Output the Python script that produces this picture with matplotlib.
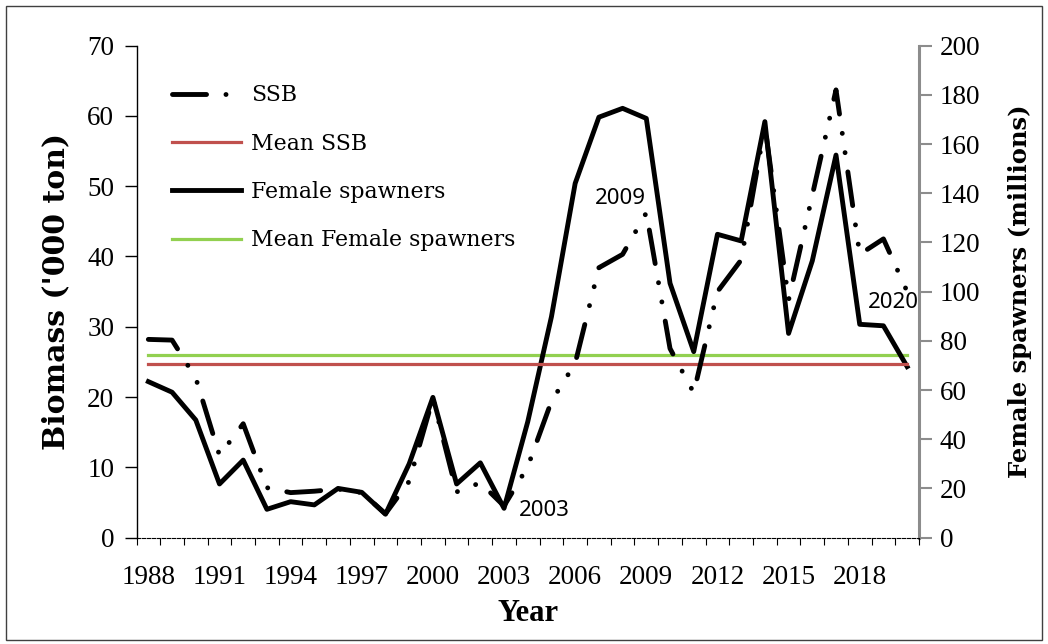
import numpy as np
import matplotlib
matplotlib.use("Agg")
import matplotlib.pyplot as plt
from matplotlib.ticker import FixedLocator, MultipleLocator
from matplotlib.patches import Rectangle

# ---- data ----
years = [1988, 1989, 1990, 1991, 1992, 1993, 1994, 1995, 1996, 1997, 1998,
         1999, 2000, 2001, 2002, 2003, 2004, 2005, 2006, 2007, 2008, 2009,
         2010, 2011, 2012, 2013, 2014, 2015, 2016, 2017, 2018, 2019, 2020]
ssb = [28.2, 28.1, 22.7, 11.7, 16.2, 7.1, 6.4, 6.6, 6.9, 6.4, 3.4,
       8.0, 19.8, 6.5, 7.8, 4.5, 10.1, 19.4, 24.8, 38.4, 40.3, 46.2,
       26.9, 20.6, 35.0, 39.5, 58.6, 33.8, 48.7, 63.7, 40.3, 42.5, 35.0]
female = [63.4, 59.1, 47.8, 21.8, 31.5, 11.5, 14.6, 13.3, 20.0, 18.4, 9.5,
          30.0, 57.0, 21.8, 30.4, 11.9, 47.1, 89.8, 144.0, 170.9, 174.5, 170.4,
          103.4, 75.6, 123.3, 120.6, 169.1, 83.0, 112.5, 155.5, 86.7, 86.1, 69.5]
tick_years = [1988, 1991, 1994, 1997, 2000, 2003, 2006, 2009, 2012, 2015, 2018]
annotations = ["2003", "2009", "2020"]

mean_ssb = float(np.mean(ssb))
mean_female = float(np.mean(female))

RED = "#C0504D"
GREY = "#8C8C8C"
GREEN = "#92D050"

fig = plt.figure(figsize=(10.48, 6.44), dpi=100)
ax = fig.add_axes([136.5 / 1048, 1 - 537.6 / 644, (919 - 136.5) / 1048, (537.6 - 45.6) / 644])
ax2 = ax.twinx()

x = np.arange(len(years))

l_ssb, = ax.plot(x, ssb, color="black", lw=3.5, dash_capstyle="round",
                 linestyle=(0, (7, 4, 0.01, 4, 0.01, 4)), label="SSB", zorder=4)
l_mssb, = ax.plot(x, [mean_ssb] * len(x), color=RED, lw=2.3, label="Mean SSB", zorder=2)
l_fem, = ax2.plot(x, female, color="black", lw=3.5, label="Female spawners", zorder=4)
l_mfem, = ax2.plot(x, [mean_female] * len(x), color=GREEN, lw=2.3, label="Mean Female spawners", zorder=2)

ax.set_zorder(ax2.get_zorder() + 1)
ax.patch.set_visible(False)

ax.set_xlim(-0.5, len(years) - 0.5)
ax.set_ylim(0, 70)
ax2.set_ylim(0, 200)

serif = "DejaVu Serif"
tickfont = "Liberation Serif"

ax.xaxis.set_major_locator(FixedLocator([years.index(y) for y in tick_years]))
ax.set_xticklabels([str(y) for y in tick_years], family=tickfont, fontsize=19.5)
ax.xaxis.set_minor_locator(FixedLocator(np.arange(-0.5, len(years), 1.0)))
ax.tick_params(axis="x", which="major", length=0, pad=20)
ax.tick_params(axis="x", which="minor", length=5, width=0.8, direction="out")

ax.yaxis.set_major_locator(MultipleLocator(10))
ax.tick_params(axis="y", length=9, width=1, direction="out", labelsize=19.5, pad=7)
for t in ax.get_yticklabels():
    t.set_family(tickfont)

ax2.yaxis.set_major_locator(MultipleLocator(20))
ax2.tick_params(axis="y", length=9, width=1.5, direction="out", colors=GREY, labelcolor="black",
                labelsize=19.5, pad=6)
for t in ax2.get_yticklabels():
    t.set_family(tickfont)

for a in (ax, ax2):
    a.spines["top"].set_visible(False)
ax.spines["right"].set_visible(False)
ax2.spines["left"].set_visible(False)
ax2.spines["bottom"].set_visible(False)
ax.spines["bottom"].set_linestyle((0, (3, 1.5)))
ax.spines["bottom"].set_linewidth(0.8)
ax.spines["left"].set_linewidth(1.0)
ax2.spines["right"].set_color(GREY)
ax2.spines["right"].set_linewidth(2.2)

ax.set_xlabel("Year", family=tickfont, fontweight="bold", fontsize=22, labelpad=6)
ax.set_ylabel("Biomass ('000 ton)", family=serif, fontweight="bold", fontsize=21.5, labelpad=12)
ax2.set_ylabel("Female spawners (millions)", family=serif, fontweight="bold", fontsize=17.5, labelpad=20)

ann_font = dict(family="Noto Sans", fontsize=16, color="black", ha="center", va="center")
ax.text(16.7, 3.9, annotations[0], **ann_font)
ax.text(19.9, 48.3, annotations[1], **ann_font)
ax.text(31.4, 33.4, annotations[2], **ann_font)

leg = ax.legend(handles=[l_ssb, l_mssb, l_fem, l_mfem], loc="upper left",
                bbox_to_anchor=(0.045, 0.921), frameon=False, borderpad=0, borderaxespad=0,
                handlelength=3.15, handletextpad=0.45, labelspacing=1.2,
                prop=dict(family=serif, size=15.8))

fig.patches.append(Rectangle((6 / 1048, 4 / 644), 1 - 12 / 1048, 1 - 10 / 644,
                             transform=fig.transFigure, fill=False, edgecolor="#404040", lw=1.0))

fig.savefig("out.png", dpi=100)
